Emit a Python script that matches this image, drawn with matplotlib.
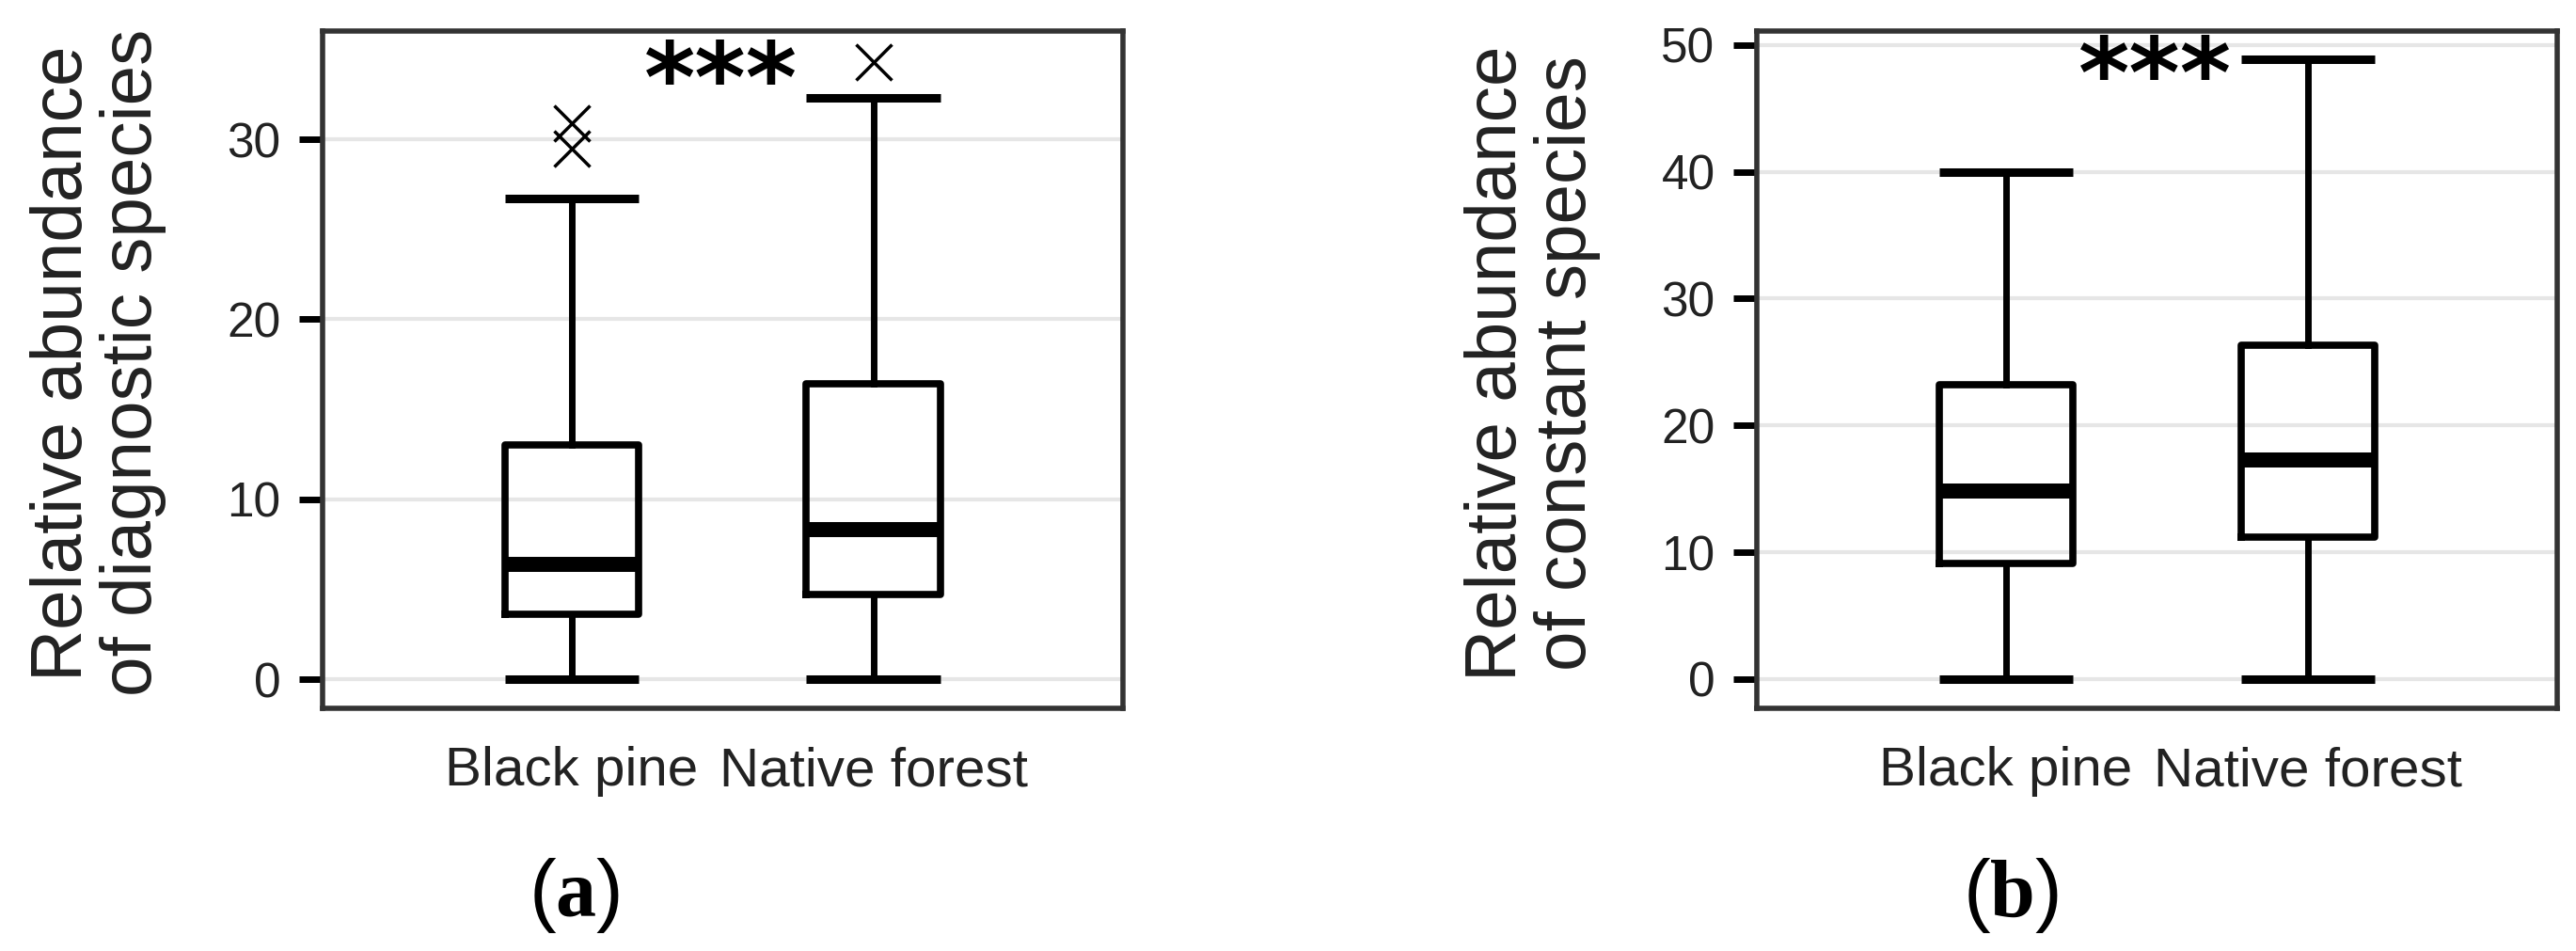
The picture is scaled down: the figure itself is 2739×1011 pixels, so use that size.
import matplotlib
matplotlib.use("Agg")
import matplotlib.pyplot as plt

# ------------------------------------------------
#  Data
# ------------------------------------------------

GROUPS = ["Black pine", "Native forest"]

# (a) diagnostic species
DIAG_WHISLO = [0.0, 0.0]
DIAG_Q1 = [3.6, 4.7]
DIAG_MED = [6.4, 8.3]
DIAG_Q3 = [13.0, 16.4]
DIAG_WHISHI = [26.7, 32.3]
DIAG_FLIERS = [[30.9, 29.5], [34.3]]

# (b) constant species
CONST_WHISLO = [0.0, 0.0]
CONST_Q1 = [9.1, 11.2]
CONST_MED = [14.8, 17.3]
CONST_Q3 = [23.2, 26.3]
CONST_WHISHI = [40.0, 48.9]
CONST_FLIERS = [[], []]

DIAG_TICKS = [0, 10, 20, 30]
CONST_TICKS = [0, 10, 20, 30, 40, 50]

SIG_LABEL = "***"

plt.rcParams['font.family'] = ['Liberation Sans', 'DejaVu Sans']
plt.rcParams['mathtext.fontset'] = 'custom'
plt.rcParams['mathtext.rm'] = 'Liberation Serif'
plt.rcParams['mathtext.bf'] = 'Liberation Serif:bold'

BOX_W = 0.445


def make_stats(whislo, q1, med, q3, whishi, fliers):
    stats = []
    for i in range(len(GROUPS)):
        stats.append(dict(whislo=whislo[i], q1=q1[i], med=med[i], q3=q3[i],
                          whishi=whishi[i], fliers=fliers[i], label=GROUPS[i]))
    return stats


def draw_panel(ax, stats, ylim, yticks, ylabel, star_y):
    ax.bxp(stats, positions=[1, 2], widths=BOX_W, capwidths=BOX_W,
           showfliers=True, zorder=3,
           boxprops=dict(color='black', linewidth=5.5),
           medianprops=dict(color='black', linewidth=11.5, solid_capstyle='butt'),
           whiskerprops=dict(color='black', linewidth=5),
           capprops=dict(color='black', linewidth=6.5, solid_capstyle='butt'),
           flierprops=dict(marker='x', markersize=27, markeredgewidth=2.5,
                           markeredgecolor='black'))
    ax.set_xlim(0.174, 2.826)
    ax.set_ylim(*ylim)
    ax.set_yticks(yticks)
    ax.set_xticks([1, 2])
    ax.set_xticklabels(GROUPS)
    ax.yaxis.grid(True, color='#e6e6e6', linewidth=3)
    ax.set_axisbelow(True)
    for sp in ax.spines.values():
        sp.set_color('#333333')
        sp.set_linewidth(4)
    ax.tick_params(axis='y', length=18, width=5, pad=14, labelsize=37,
                   color='black', labelcolor='#222222')
    ax.tick_params(axis='x', length=0, pad=29, labelsize=42,
                   labelcolor='#222222')
    ax.set_ylabel(ylabel, fontsize=55, linespacing=1.05, color='#222222')
    ax.yaxis.set_label_coords(-0.195, 0.51)
    ax.text(1.495, star_y, SIG_LABEL, ha='center', va='baseline',
            fontsize=75, fontweight='bold', family='DejaVu Sans', zorder=4)


fig = plt.figure(figsize=(27.39, 10.11), dpi=100)
ax_a = fig.add_axes([0.1252, 0.2552, 0.3107, 0.7122])
ax_b = fig.add_axes([0.6820, 0.2552, 0.3107, 0.7122])

draw_panel(ax_a,
           make_stats(DIAG_WHISLO, DIAG_Q1, DIAG_MED, DIAG_Q3, DIAG_WHISHI, DIAG_FLIERS),
           (-1.62, 36.02), DIAG_TICKS,
           "Relative abundance\nof diagnostic species", 31.5)
draw_panel(ax_b,
           make_stats(CONST_WHISLO, CONST_Q1, CONST_MED, CONST_Q3, CONST_WHISHI, CONST_FLIERS),
           (-2.3, 51.1), CONST_TICKS,
           "Relative abundance\nof constant species", 45.1)

fig.text(0.223, 0.058, r"($\mathbf{a}$)", ha='center', va='center', fontsize=62)
fig.text(0.7806, 0.058, r"($\mathbf{b}$)", ha='center', va='center', fontsize=62)

fig.savefig("out.png", dpi=100)
